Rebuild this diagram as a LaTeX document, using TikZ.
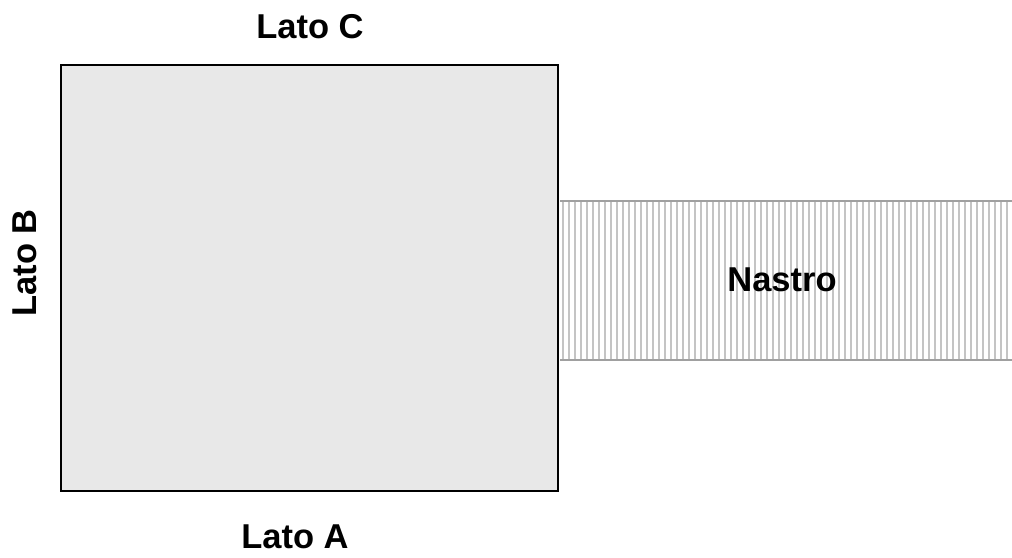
\documentclass[tikz,border=0pt]{standalone}
\usepackage{fontspec}
\setmainfont{Liberation Sans}
\definecolor{panelfill}{HTML}{E8E8E8}
\definecolor{stripe}{HTML}{C4C4C4}
\definecolor{stripeedge}{HTML}{A0A0A0}
\begin{document}
\begin{tikzpicture}[x=1pt,y=-1pt,
  label/.style={font=\fontsize{34.5}{40}\selectfont\bfseries, inner sep=0pt, anchor=center},
  panel/.style={draw=black, line width=1.5pt, fill=panelfill},
  stripeline/.style={draw=stripe, line width=2.4pt},
  ribbonedge/.style={draw=stripeedge, line width=1.2pt}]
\useasboundingbox (0,0) rectangle (1012,557);
% ribbon with vertical stripes
\foreach \x in {563,569,...,1011}
  \draw[stripeline] (\x,201) -- (\x,360);
\coordinate (rtl) at (560,201);
\coordinate (rtr) at (1012,201);
\coordinate (rbl) at (560,360);
\coordinate (rbr) at (1012,360);
\draw[ribbonedge] (rtl) -- (rtr);
\draw[ribbonedge] (rbl) -- (rbr);
% main panel
\node[panel, minimum width=497pt, minimum height=426pt, inner sep=0pt, anchor=north west] (panel) at (60,64) {};
% labels
\node[label] (latoC) at (310,27) {Lato C};
\node[label] (latoA) at (295,537) {Lato A};
\node[label, rotate=90] (latoB) at (25,263) {Lato B};
\node[label] (nastro) at (782,280) {Nastro};
\end{tikzpicture}
\end{document}
